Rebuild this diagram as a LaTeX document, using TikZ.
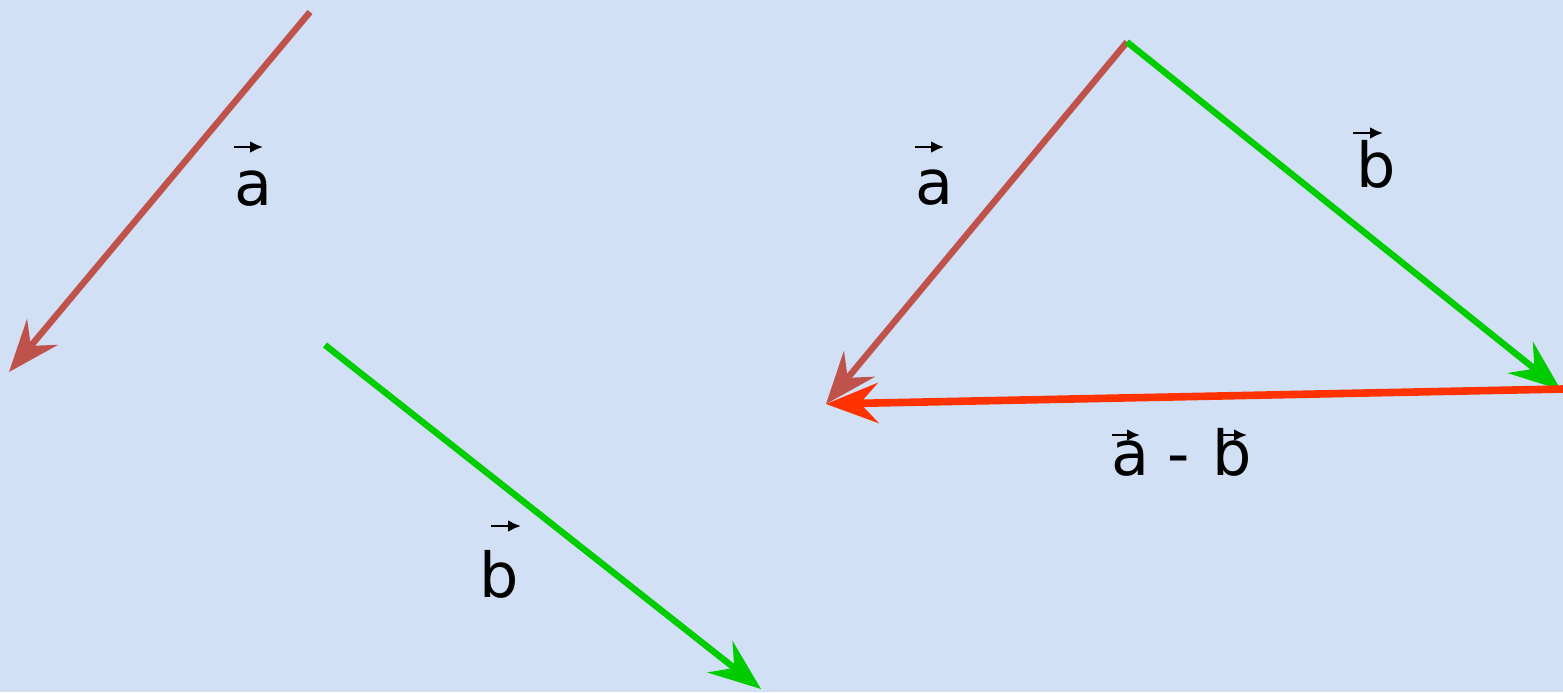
\documentclass[tikz,border=0pt]{standalone}
\usepackage{fontspec}
\setmainfont{DejaVu Sans}
\usepackage{tikz}
\usetikzlibrary{arrows.meta, positioning, calc}
\definecolor{bgblue}{RGB}{210,224,246}
\definecolor{vecred}{RGB}{192,82,76}
\definecolor{vecgreen}{RGB}{0,204,0}
\definecolor{diffred}{RGB}{255,50,0}
\tikzset{
  vecarrow/.style={-{Stealth[length=26pt, width=20pt, inset=9pt]}, line width=3.2pt},
  veclabel/.style={font=\fontsize{31}{36}\selectfont, inner sep=0pt, anchor=base},
  accent/.style={-{Latex[length=6.5pt, width=6pt]}, line width=1.4pt, black}
}
\begin{document}
\begin{tikzpicture}[x=0.5pt, y=-0.5pt]
  % background
  \fill[bgblue] (0,0) rectangle (1563,692);
  \useasboundingbox (0,0) rectangle (1563,692);

  % Left: separate vectors
  \coordinate (a1s) at (310,12);
  \coordinate (a1e) at (9,372);
  \coordinate (b1s) at (325,345);
  \coordinate (b1e) at (761,689);
  \draw[vecarrow, vecred] (a1s) -- (a1e);
  \draw[vecarrow, vecgreen] (b1s) -- (b1e);
  \node[veclabel] (la1) at (253,205) {a};
  \node[veclabel] (lb1) at (499,597) {b};
  \draw[accent] ([shift={(-19,-58)}]la1.base) -- ++(29,0);
  \draw[accent] ([shift={(-8,-71)}]lb1.base) -- ++(30,0);

  % Right: triangle
  \coordinate (top) at (1127,42);
  \coordinate (ae) at (826,404);
  \coordinate (be) at (1561,390);
  \coordinate (ds) at (1563,389);
  \draw[vecarrow, vecred] (top) -- (ae);
  \draw[vecarrow, vecgreen] (top) -- (be);
  \draw[vecarrow, diffred, line width=3.8pt] (ds) -- (ae);
  \node[veclabel] (la2) at (934,204) {a};
  \node[veclabel] (lb2) at (1376,187) {b};
  \draw[accent] ([shift={(-19,-57)}]la2.base) -- ++(29,0);
  \draw[accent] ([shift={(-23,-54)}]lb2.base) -- ++(30,0);

  % difference label
  \node[veclabel] (lda) at (1130,475) {a};
  \node[veclabel] (ldm) at (1179,475) {-};
  \node[veclabel] (ldb) at (1232,475) {b};
  \draw[accent] ([shift={(-18,-40)}]lda.base) -- ++(28,0);
  \draw[accent] ([shift={(-14,-40)}]ldb.base) -- ++(29,0);
\end{tikzpicture}
\end{document}
